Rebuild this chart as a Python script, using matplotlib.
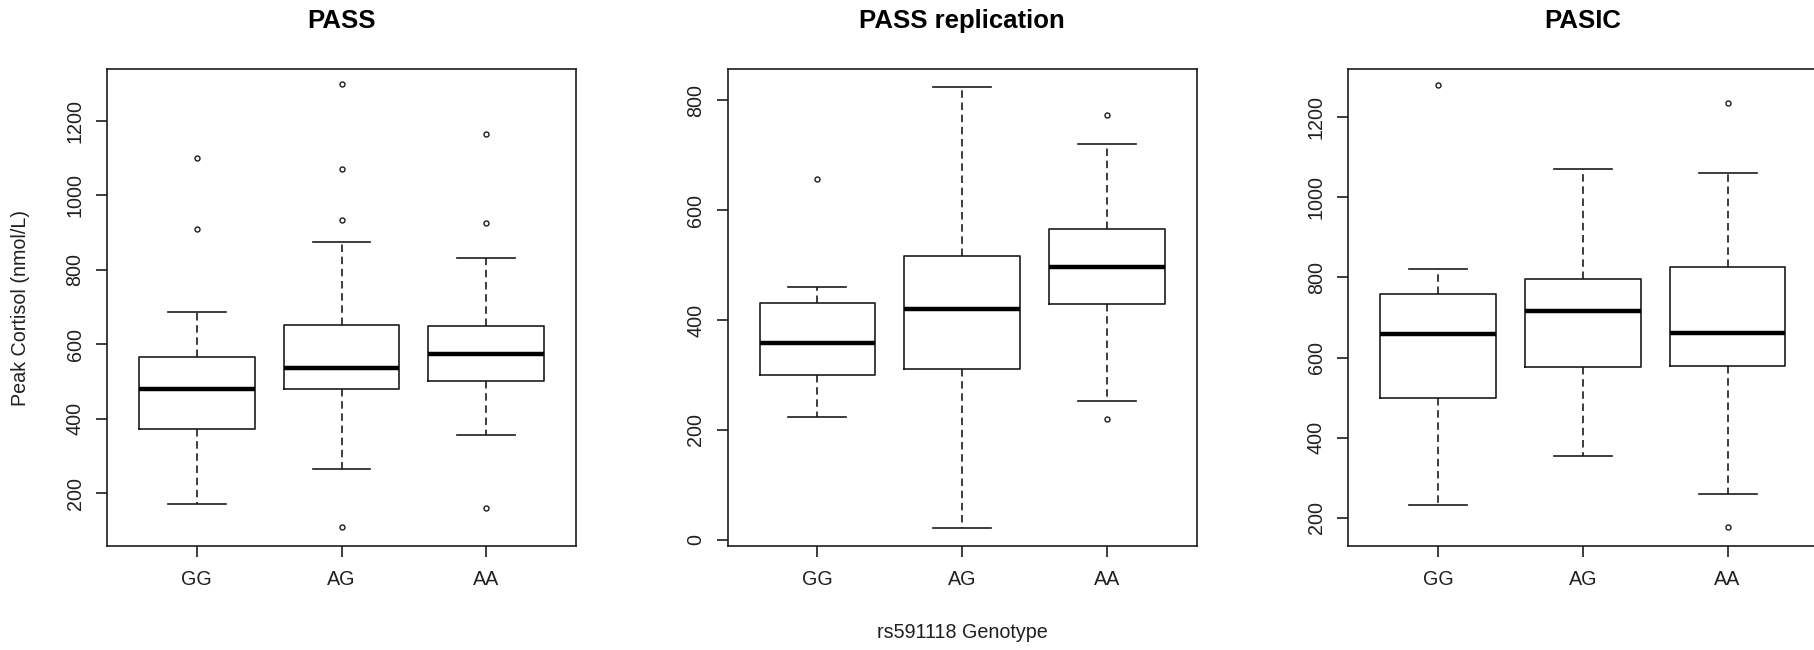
import matplotlib
matplotlib.use("Agg")
import matplotlib.pyplot as plt

plt.rcParams['font.family'] = ['Liberation Sans', 'DejaVu Sans']

# ---------------- data ----------------
genotypes = ["GG", "AG", "AA"]
titles = ["PASS", "PASS replication", "PASIC"]

# PASS
pass_whislo = [171, 264, 356]
pass_q1 = [372, 481, 502]
pass_med = [481, 536, 573]
pass_q3 = [565, 651, 648]
pass_whishi = [686, 874, 832]
pass_fliers = [[909, 1100], [110, 934, 1069, 1298], [161, 926, 1165]]

# PASS replication
rep_whislo = [223, 22, 252]
rep_q1 = [300, 311, 429]
rep_med = [359, 421, 497]
rep_q3 = [432, 516, 565]
rep_whishi = [461, 825, 720]
rep_fliers = [[657], [], [220, 773]]

# PASIC
pasic_whislo = [231, 355, 258]
pasic_q1 = [498, 576, 580]
pasic_med = [658, 716, 661]
pasic_q3 = [758, 796, 827]
pasic_whishi = [820, 1072, 1061]
pasic_fliers = [[1280], [], [177, 1237]]

yticks_list = [[200, 400, 600, 800, 1000, 1200],
               [0, 200, 400, 600, 800],
               [200, 400, 600, 800, 1000, 1200]]
ylims = [(58.6, 1337.6), (-11.5, 856.8), (129.3, 1320.0)]

ylabel = "Peak Cortisol (nmol/L)"
xlabel = "rs591118 Genotype"

datasets = [
    (pass_whislo, pass_q1, pass_med, pass_q3, pass_whishi, pass_fliers),
    (rep_whislo, rep_q1, rep_med, rep_q3, rep_whishi, rep_fliers),
    (pasic_whislo, pasic_q1, pasic_med, pasic_q3, pasic_whishi, pasic_fliers),
]

# ---------------- figure layout ----------------
W, H = 1814, 650
fig = plt.figure(figsize=(W / 100, H / 100), dpi=100)
fig.patch.set_facecolor("white")

ax_lefts = [107.0, 727.7, 1348.3]
ax_w = 469.0
ax_top, ax_bot = 69.3, 546.0

ink = "#1c1c1c"
lw = 1.2

for i, (wl, q1, md, q3, wh, fl) in enumerate(datasets):
    ax = fig.add_axes([ax_lefts[i] / W, (H - ax_bot) / H, ax_w / W, (ax_bot - ax_top) / H])
    stats = []
    for j, g in enumerate(genotypes):
        stats.append(dict(label=g, whislo=wl[j], q1=q1[j], med=md[j], q3=q3[j],
                          whishi=wh[j], fliers=fl[j]))
    ax.bxp(stats, positions=[1, 2, 3], widths=0.8, showfliers=True,
           boxprops=dict(color=ink, linewidth=lw),
           medianprops=dict(color="black", linewidth=3.2, solid_capstyle="butt"),
           whiskerprops=dict(color=ink, linewidth=lw, linestyle=(0, (4.5, 2.8))),
           capprops=dict(color=ink, linewidth=lw),
           capwidths=0.4,
           flierprops=dict(marker="o", markersize=3.6, markerfacecolor="none",
                           markeredgecolor=ink, markeredgewidth=1.0, linestyle="none"))
    ax.set_xlim(0.38, 3.62)
    ax.set_ylim(*ylims[i])
    ax.set_yticks(yticks_list[i])
    ax.set_yticklabels([str(v) for v in yticks_list[i]], rotation=90, va="center")
    ax.set_xticks([1, 2, 3])
    ax.set_xticklabels(genotypes)
    for s in ax.spines.values():
        s.set_linewidth(lw)
        s.set_color(ink)
    ax.tick_params(axis="both", direction="out", length=7.9, width=lw, color=ink,
                   labelsize=14.2, labelcolor="#202020")
    ax.tick_params(axis="x", pad=9.5)
    ax.tick_params(axis="y", pad=8.3)
    ax.text(0.5, 1 + 48.6 / (ax_bot - ax_top), titles[i], transform=ax.transAxes,
            ha="center", va="center", fontsize=18.5, fontweight="bold", color="black")

fig.text(20.8 / W, 1 - 307.7 / H, ylabel, rotation=90, ha="center", va="center",
         fontsize=14.2, color="#202020")
fig.text((727.7 + ax_w / 2) / W, 1 - 632.8 / H, xlabel, ha="center", va="center",
         fontsize=14.2, color="#202020")

fig.savefig("out.png", dpi=100, facecolor="white")
